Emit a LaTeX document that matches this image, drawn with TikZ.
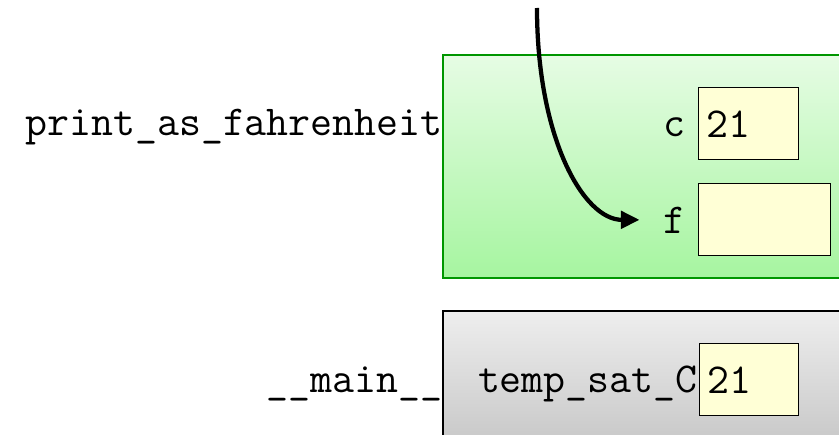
\documentclass[tikz,border=0pt]{standalone}
\usepackage{fontspec}
\usetikzlibrary{positioning,arrows.meta}
\definecolor{framegreen}{RGB}{0,150,0}
\definecolor{greentop}{RGB}{230,252,228}
\definecolor{greenbot}{RGB}{166,245,160}
\definecolor{greytop}{RGB}{238,238,238}
\definecolor{greybot}{RGB}{198,198,198}
\definecolor{valyellow}{RGB}{255,255,214}
\newcommand{\codefont}{\ttfamily\fontsize{32}{34}\selectfont}
\tikzstyle{label} = [font=\codefont,inner sep=0pt,anchor=base east]
\tikzstyle{valbox} = [draw=black,line width=1.1pt,fill=valyellow,minimum height=54pt,inner xsep=6pt,inner ysep=0pt,align=left,anchor=north west,font=\codefont]
\tikzstyle{pointer} = [line width=3.2pt,-{Triangle[length=14pt,width=13pt]}]

\begin{document}
\begin{tikzpicture}[x=0.75pt,y=-0.75pt]
\useasboundingbox (0,0) rectangle (839,435);
\clip (0,0) rectangle (839,435);
% frames
\draw[draw=framegreen,line width=1.7pt,top color=greentop,bottom color=greenbot] (443,55) rectangle (880,278);
\draw[draw=black,line width=1.7pt,top color=greytop,bottom color=greybot] (443,311) rectangle (880,450);
\node[label] (fahrname) at (443,135) {print\_as\_fahrenheit};
\node[label] (mainname) at (443,392) {\_\_main\_\_};

% print_as_fahrenheit
\node[label] (clabel) at (686,137) {c};
\node[valbox,minimum width=75pt,text width=63pt] (cbox) at (698,87) {21};
\node[label] (flabel) at (686,233) {f};
\node[valbox,minimum width=99pt] (fbox) at (698,183) {};

% __main__
\node[label] (templabel) at (698,392) {temp\_sat\_C};
\node[valbox,minimum width=74pt,text width=62pt] (tempbox) at (699,343) {21};

% return pointer
\coordinate (ptrstart) at (537,8);
\draw[pointer,shorten >=18pt] (ptrstart) .. controls +(0,130) and +(-80,0) .. (flabel.west);
\end{tikzpicture}
\end{document}
